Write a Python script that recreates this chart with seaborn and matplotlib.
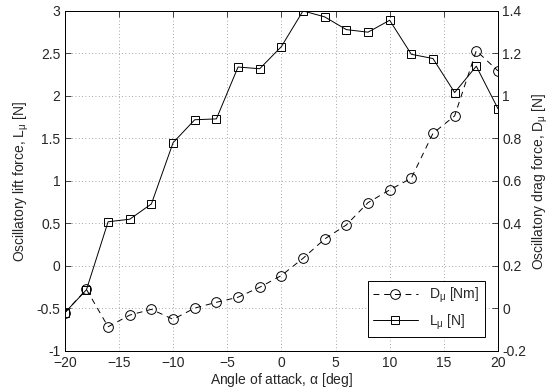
import numpy as np
import pandas as pd
import matplotlib
matplotlib.use("Agg")
import matplotlib.pyplot as plt
import seaborn as sns

# angle of attack [deg]
alpha = [-20, -18, -16, -14, -12, -10, -8, -6, -4, -2, 0,
         2, 4, 6, 8, 10, 12, 14, 16, 18, 20]
# oscillatory lift force L_mu [N] (left axis)
lift = [-0.55, -0.28, 0.52, 0.55, 0.73, 1.45, 1.72, 1.73, 2.34, 2.32, 2.58,
        3.00, 2.93, 2.78, 2.75, 2.89, 2.49, 2.44, 2.04, 2.35, 1.85]
# oscillatory drag force D_mu (right axis)
drag = [-0.02, 0.09, -0.086, -0.031, -0.004, -0.051, 0.002, 0.029, 0.053, 0.10, 0.155,
        0.236, 0.327, 0.393, 0.498, 0.558, 0.613, 0.824, 0.906, 1.213, 1.118]

df = pd.DataFrame({"alpha": alpha, "lift": lift, "drag": drag})

sns.set_style("white")
plt.rcParams["font.family"] = ["Liberation Sans", "DejaVu Sans"]
plt.rcParams["mathtext.fontset"] = "custom"
plt.rcParams["mathtext.rm"] = "Liberation Sans"
plt.rcParams["mathtext.it"] = "Liberation Sans"
plt.rcParams["xtick.direction"] = "in"
plt.rcParams["ytick.direction"] = "in"

fig = plt.figure(figsize=(5.49, 3.90), dpi=100)
ax = fig.add_axes([0.118, 0.10, 0.789, 0.872])
ax2 = ax.twinx()

sns.lineplot(data=df, x="alpha", y="lift", ax=ax, color="black", linewidth=0.7,
             marker="s", markersize=5.5, markerfacecolor="none",
             markeredgecolor="black", markeredgewidth=0.7, label=r"L$_\mathrm{\mu}$ [N]",
             legend=False)
sns.lineplot(data=df, x="alpha", y="drag", ax=ax2, color="black", linewidth=0.7,
             linestyle=(0, (6, 5)), marker="o", markersize=7, markerfacecolor="none",
             markeredgecolor="black", markeredgewidth=0.7, label=r"D$_\mathrm{\mu}$ [Nm]",
             legend=False)

ax.set_xlim(-20, 20)
ax.set_ylim(-1, 3)
ax2.set_ylim(-0.2, 1.4)
ax.set_xticks(np.arange(-20, 21, 5))
ax.set_yticks(np.arange(-1, 3.01, 0.5))
ax.set_yticklabels(["-1", "-0.5", "0", "0.5", "1", "1.5", "2", "2.5", "3"])
ax2.set_yticks(np.arange(-0.2, 1.41, 0.2))
ax2.set_yticklabels(["-0.2", "0", "0.2", "0.4", "0.6", "0.8", "1", "1.2", "1.4"])

ax.grid(True, linestyle=(0, (1, 3)), color="#888888", linewidth=0.6)
ax.tick_params(axis="x", labelsize=10, length=4, width=0.6, top=True, pad=3.5)
ax.tick_params(axis="y", labelsize=10, length=4, width=0.6, pad=3)
ax2.tick_params(axis="y", labelsize=10, length=4, width=0.6, pad=3)
for a in (ax, ax2):
    for s in a.spines.values():
        s.set_color("black")
        s.set_linewidth(0.7)

ax.set_xlabel(r"Angle of attack, $\alpha$ [deg]", fontsize=10, labelpad=1)
ax.set_ylabel(r"Oscillatory lift force, L$_\mathrm{\mu}$ [N]", fontsize=10, labelpad=4)
ax2.set_ylabel(r"Oscillatory drag force, D$_\mathrm{\mu}$ [N]", fontsize=10, labelpad=3)

h1, l1 = ax.get_legend_handles_labels()
h2, l2 = ax2.get_legend_handles_labels()
leg = ax2.legend(h2 + h1, l2 + l1, loc="lower right", bbox_to_anchor=(0.985, 0.02),
                 fontsize=10, fancybox=False, framealpha=1, edgecolor="black",
                 handlelength=3.2, borderpad=0.4, labelspacing=0.5)
leg.get_frame().set_linewidth(0.7)

fig.savefig("out.png", dpi=100)
